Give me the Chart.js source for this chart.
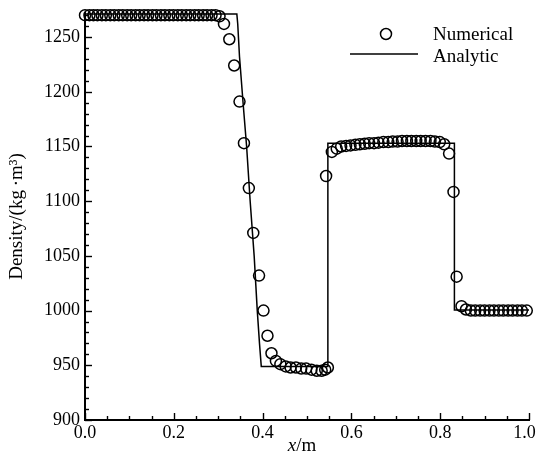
<!DOCTYPE html>
<html>
<head>
<meta charset="utf-8">
<style>
  html, body { margin: 0; padding: 0; background: #fff; }
  #wrap { position: relative; width: 536px; height: 461px; }
</style>
<script src="https://cdn.jsdelivr.net/npm/chart.js@4.4.1/dist/chart.umd.min.js"></script>
</head>
<body>
<div id="wrap"><canvas id="c" width="536" height="461"></canvas></div>
<script>
// ---- data ----
const numericalX = [
  0.000, 0.010, 0.019, 0.028, 0.038, 0.047, 0.057, 0.066, 0.076, 0.085,
  0.095, 0.104, 0.114, 0.123, 0.133, 0.142, 0.152, 0.161, 0.171, 0.180,
  0.190, 0.199, 0.209, 0.218, 0.228, 0.237, 0.247, 0.256, 0.266, 0.275,
  0.285, 0.294, 0.303,
  0.313, 0.325, 0.336, 0.348, 0.358, 0.369, 0.379, 0.392, 0.402, 0.411, 0.420, 0.430,
  0.440, 0.452, 0.463, 0.475, 0.487, 0.498, 0.510, 0.522, 0.533, 0.541, 0.547,
  0.543,
  0.556, 0.567, 0.577, 0.588, 0.598, 0.609, 0.619, 0.630, 0.640, 0.651,
  0.661, 0.672, 0.683, 0.693, 0.704, 0.714, 0.725, 0.735, 0.746, 0.756,
  0.767, 0.778, 0.788, 0.799, 0.809, 0.820,
  0.830, 0.837,
  0.848, 0.858, 0.869, 0.879, 0.890, 0.900, 0.911, 0.921, 0.932, 0.942,
  0.953, 0.963, 0.974, 0.984, 0.995
];
const numericalY = [
  1270, 1270, 1270, 1270, 1270, 1270, 1270, 1270, 1270, 1270,
  1270, 1270, 1270, 1270, 1270, 1270, 1270, 1270, 1270, 1270,
  1270, 1270, 1270, 1270, 1270, 1270, 1270, 1270, 1270, 1270,
  1270, 1270, 1269,
  1262, 1248, 1224, 1191, 1153, 1112, 1071, 1032, 1000, 977, 961, 954,
  951, 949, 948, 948, 947, 947, 946, 945, 945, 946, 948,
  1123,
  1145, 1148, 1150, 1150.5, 1151, 1151.5, 1152, 1152.5, 1153, 1153,
  1153.5, 1154, 1154, 1154.5, 1154.5, 1155, 1155, 1155, 1155, 1155,
  1155, 1155, 1154.5, 1154, 1152, 1143.5,
  1108.5, 1031,
  1004, 1001, 1000, 1000, 1000, 1000, 1000, 1000, 1000, 1000,
  1000, 1000, 1000, 1000, 1000
];
const analyticX = [0, 0.342, 0.344, 0.348, 0.356, 0.364, 0.372, 0.381, 0.388, 0.393, 0.397, 0.547, 0.547, 0.832, 0.832, 1.0];
const analyticY = [1271, 1271, 1262, 1232, 1190, 1150, 1100, 1050, 1000, 970, 949, 949, 1153, 1153, 1000.5, 1000.5];

const xTickValues = [0.0, 0.2, 0.4, 0.6, 0.8, 1.0];
const xTickLabels = ['0.0', '0.2', '0.4', '0.6', '0.8', '1.0\u2002'];
const yTickValues = [900, 950, 1000, 1050, 1100, 1150, 1200, 1250];
const yTickLabels = ['900', '950', '1000', '1050', '1100', '1150', '1200', '1250'];
const seriesNames = ['Numerical', 'Analytic'];
const yTitle = 'Density/(kg\u2009\u00b7m\u00b3)';

const FONT = "'Liberation Serif', 'Times New Roman', serif";

const numericalPts = numericalX.map((x, i) => ({ x: x, y: numericalY[i] }));
const analyticPts = analyticX.map((x, i) => ({ x: x, y: analyticY[i] }));

const decorPlugin = {
  id: 'decor',
  afterDraw(chart) {
    const { ctx, chartArea: a, scales } = chart;
    const xs = scales.x, ys = scales.y;
    ctx.save();
    ctx.strokeStyle = '#000';
    ctx.lineWidth = 1.4;
    // inner ticks, x axis (minor every 0.05)
    for (let k = 0; k <= 20; k++) {
      const v = k * 0.05;
      const px = Math.round(xs.getPixelForValue(v)) + 0.5;
      const len = (k % 4 === 0) ? 7 : 4;
      ctx.beginPath(); ctx.moveTo(px, a.bottom); ctx.lineTo(px, a.bottom - len); ctx.stroke();
    }
    // inner ticks, y axis (minor every 10)
    for (let v = 900; v <= 1270; v += 10) {
      const py = Math.round(ys.getPixelForValue(v)) + 0.5;
      const len = (v % 50 === 0) ? 7 : 4;
      ctx.beginPath(); ctx.moveTo(a.left, py); ctx.lineTo(a.left + len, py); ctx.stroke();
    }
    // x title: italic x + "/m"
    ctx.fillStyle = '#000';
    ctx.textBaseline = 'middle';
    ctx.font = 'italic 19px ' + FONT;
    const w1 = ctx.measureText('x').width;
    ctx.font = '19px ' + FONT;
    const w2 = ctx.measureText('/m').width;
    const cx = 302, cy = 446;
    let sx = cx - (w1 + w2) / 2;
    ctx.font = 'italic 19px ' + FONT;
    ctx.textAlign = 'left';
    ctx.fillText('x', sx, cy);
    ctx.font = '19px ' + FONT;
    ctx.fillText('/m', sx + w1, cy);
    // legend
    ctx.font = '19px ' + FONT;
    ctx.textBaseline = 'middle';
    ctx.lineWidth = 1.5;
    ctx.beginPath(); ctx.arc(386, 34, 5.5, 0, Math.PI * 2); ctx.stroke();
    ctx.fillText(seriesNames[0], 433, 35);
    ctx.lineWidth = 1.5;
    ctx.beginPath(); ctx.moveTo(350, 54); ctx.lineTo(418, 54); ctx.stroke();
    ctx.fillText(seriesNames[1], 433, 57);
    ctx.restore();
  }
};

new Chart(document.getElementById('c'), {
  type: 'scatter',
  data: {
    datasets: [
      {
        label: seriesNames[0],
        data: numericalPts,
        showLine: false,
        pointStyle: 'circle',
        pointRadius: 5.5,
        pointBorderWidth: 1.5,
        pointBorderColor: '#000',
        pointBackgroundColor: 'rgba(0,0,0,0)',
        clip: false,
        order: 1
      },
      {
        label: seriesNames[1],
        data: analyticPts,
        showLine: true,
        borderColor: '#000',
        borderWidth: 1.5,
        pointRadius: 0,
        fill: false,
        tension: 0,
        order: 2
      }
    ]
  },
  plugins: [decorPlugin],
  options: {
    responsive: false,
    animation: false,
    devicePixelRatio: 1,
    layout: { padding: { top: 13, right: 7, left: 0, bottom: 0 } },
    plugins: { legend: { display: false }, tooltip: { enabled: false } },
    scales: {
      x: {
        type: 'linear',
        min: 0, max: 1.0,
        afterBuildTicks: (s) => { s.ticks = xTickValues.map(v => ({ value: v })); },
        afterFit: (s) => { s.height = 41; s.paddingRight = 0; s.paddingLeft = 0; },
        grid: { display: true, drawOnChartArea: false, drawTicks: false },
        border: { display: true, color: '#000', width: 2 },
        ticks: {
          color: '#000',
          font: { family: FONT, size: 18 },
          padding: 2,
          maxRotation: 0,
          callback: (v, i) => xTickLabels[i]
        }
      },
      y: {
        type: 'linear',
        min: 900, max: 1272,
        afterBuildTicks: (s) => { s.ticks = yTickValues.map(v => ({ value: v })); },
        afterFit: (s) => { s.width = 85; s.paddingTop = 0; s.paddingBottom = 0; },
        grid: { display: true, drawOnChartArea: false, drawTicks: false },
        border: { display: true, color: '#000', width: 2 },
        title: {
          display: true,
          text: yTitle,
          color: '#000',
          font: { family: FONT, size: 19 },
          padding: { top: 6, bottom: 0 }
        },
        ticks: {
          color: '#000',
          font: { family: FONT, size: 18 },
          padding: 5,
          callback: (v, i) => yTickLabels[i]
        }
      }
    }
  }
});
</script>
</body>
</html>
